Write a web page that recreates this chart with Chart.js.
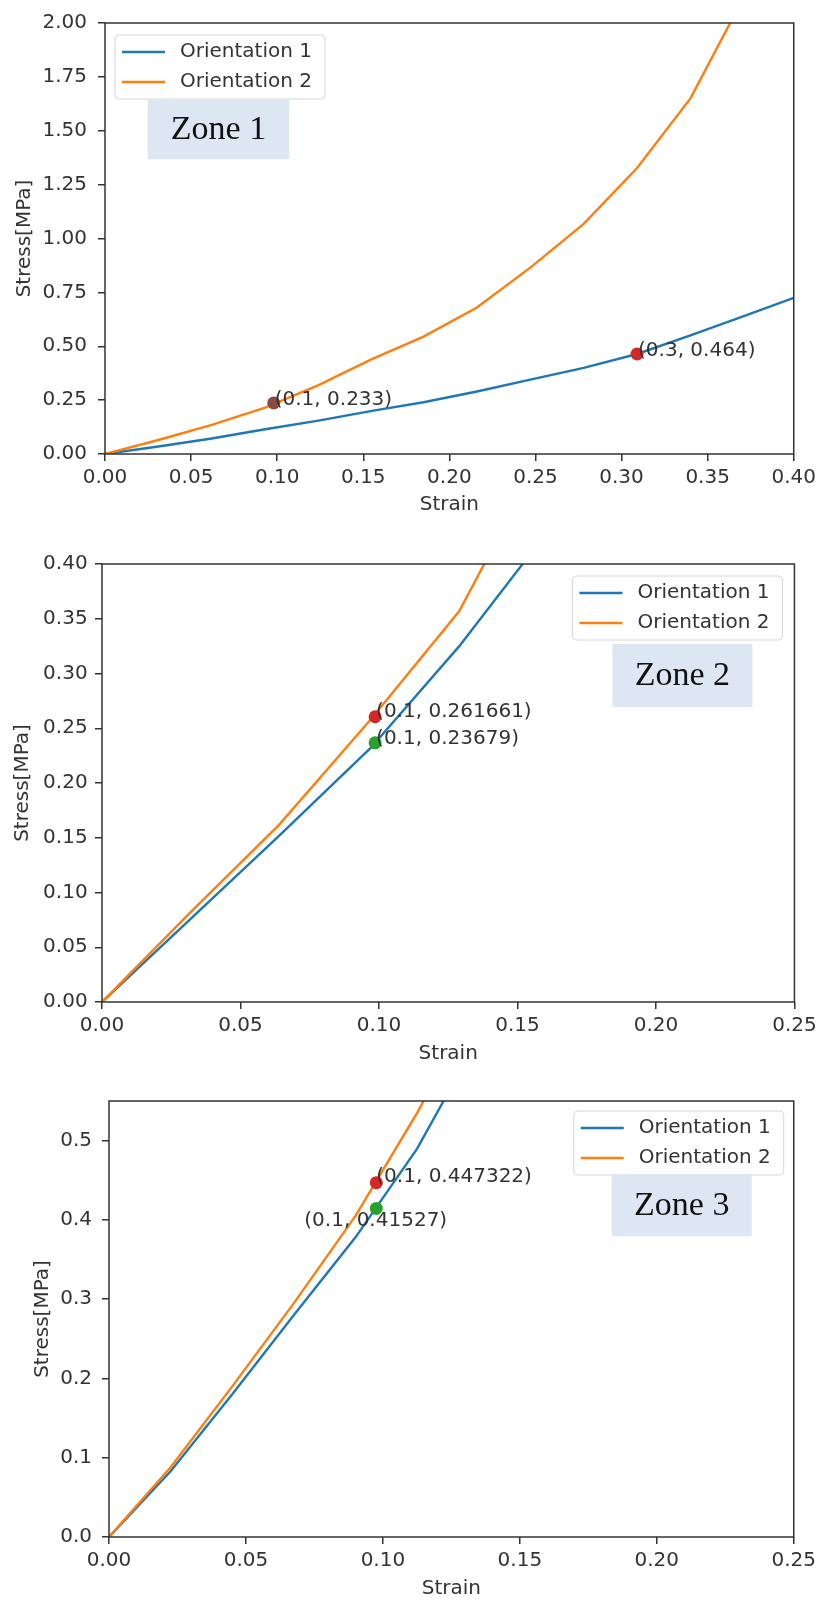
<!DOCTYPE html>
<html>
<head>
<meta charset="utf-8">
<script src="https://cdn.jsdelivr.net/npm/chart.js@4.4.1/dist/chart.umd.min.js"></script>
<style>
  body { margin: 0; background: #fff; }
  canvas { position: absolute; left: 0; }
</style>
</head>
<body>
<canvas id="zone1" width="821" height="530" style="top:0px"></canvas>
<canvas id="zone2" width="821" height="540" style="top:530px"></canvas>
<canvas id="zone3" width="821" height="543" style="top:1070px"></canvas>
<script>
// Zone 1
const strain1 = [0, 0.031, 0.062, 0.093, 0.124, 0.155, 0.185, 0.216, 0.247, 0.278, 0.309, 0.340, 0.371, 0.402];
const stress1Ori1 = [0, 0.035, 0.072, 0.115, 0.155, 0.20, 0.24, 0.29, 0.345, 0.40, 0.464, 0.55, 0.64, 0.73];
const stress1Ori2 = [0, 0.065, 0.135, 0.215, 0.32, 0.44, 0.545, 0.68, 0.865, 1.068, 1.327, 1.65, 2.12];
const markX1 = [0.098, 0.309];
const markY1 = [0.237, 0.464];
const markText1 = ["(0.1, 0.233)", "(0.3, 0.464)"];

// Zone 2
const strain2 = [0, 0.032, 0.064, 0.097, 0.129, 0.161];
const stress2Ori1 = [0, 0.076, 0.152, 0.232, 0.325, 0.43];
const stress2Ori2 = [0, 0.082, 0.162, 0.258, 0.357, 0.51];
const markX2 = [0.0986, 0.0986];
const markY2 = [0.2605, 0.2367];
const markText2 = ["(0.1, 0.261661)", "(0.1, 0.23679)"];

// Zone 3
const strain3 = [0, 0.0225, 0.045, 0.0675, 0.09, 0.1125, 0.135];
const stress3Ori1 = [0, 0.083, 0.18, 0.28, 0.378, 0.49, 0.63];
const stress3Ori2 = [0, 0.088, 0.19, 0.295, 0.405, 0.535, 0.68];
const markX3 = [0.0976, 0.0976];
const markY3 = [0.447, 0.4145];
const markText3 = ["(0.1, 0.447322)", "(0.1, 0.41527)"];

const seriesNames = ["Orientation 1", "Orientation 2"];
const BLUE = "#1f77b4", ORANGE = "#ff7f0e";
const INK = "#333";

Chart.defaults.font.family = "DejaVu Sans";
Chart.defaults.font.size = 20;
Chart.defaults.color = INK;

function pts(xs, ys) {
  return ys.map((y, i) => ({ x: xs[i], y: y }));
}

function box(ctx, x, y, w, h, r) {
  ctx.beginPath();
  ctx.moveTo(x + r, y);
  ctx.lineTo(x + w - r, y);
  ctx.quadraticCurveTo(x + w, y, x + w, y + r);
  ctx.lineTo(x + w, y + h - r);
  ctx.quadraticCurveTo(x + w, y + h, x + w - r, y + h);
  ctx.lineTo(x + r, y + h);
  ctx.quadraticCurveTo(x, y + h, x, y + h - r);
  ctx.lineTo(x, y + r);
  ctx.quadraticCurveTo(x, y, x + r, y);
  ctx.closePath();
}

const decorations = {
  id: "decorations",
  afterDatasetsDraw(chart) {
    const o = chart.options.plugins.decorations;
    const { ctx, chartArea: a, scales } = chart;
    ctx.save();
    // marker labels
    ctx.font = "20px DejaVu Sans";
    ctx.fillStyle = INK;
    ctx.textAlign = "left";
    ctx.textBaseline = "middle";
    o.markText.forEach((t, i) => {
      const px = scales.x.getPixelForValue(o.markX[i]) + o.textOffset[i][0];
      const py = scales.y.getPixelForValue(o.markY[i]) + o.textOffset[i][1];
      ctx.fillText(t, px, py);
    });
    // frame
    ctx.strokeStyle = INK;
    ctx.lineWidth = 1.5;
    ctx.strokeRect(a.left, a.top, a.right - a.left, a.bottom - a.top);
    ctx.restore();
  },
  afterDraw(chart) {
    const o = chart.options.plugins.decorations;
    const { ctx, chartArea: a } = chart;
    ctx.save();
    // legend
    const lx = o.legendRight ? a.right - o.legend[0] - 210 : a.left + o.legend[0];
    const ly = a.top + o.legend[1];
    box(ctx, lx, ly, 210, 64, 4);
    ctx.fillStyle = "rgba(255,255,255,0.85)";
    ctx.fill();
    ctx.strokeStyle = "#d6d6d6";
    ctx.lineWidth = 1;
    ctx.stroke();
    [BLUE, ORANGE].forEach((c, i) => {
      const yy = ly + 17 + i * 30;
      ctx.strokeStyle = c;
      ctx.lineWidth = 2.4;
      ctx.beginPath();
      ctx.moveTo(lx + 7, yy);
      ctx.lineTo(lx + 50, yy);
      ctx.stroke();
      ctx.fillStyle = INK;
      ctx.font = "20px DejaVu Sans";
      ctx.textAlign = "left";
      ctx.textBaseline = "middle";
      ctx.fillText(seriesNames[i], lx + 65, yy);
    });
    // zone label
    const z = o.zone;
    const zx = z.fromRight ? a.right - z.dx : a.left + z.dx;
    const zy = a.top + z.dy;
    ctx.fillStyle = "#dce7f3";
    ctx.fillRect(zx, zy, z.w, z.h);
    ctx.fillStyle = "#111";
    ctx.font = "34px 'Liberation Serif'";
    ctx.textAlign = "center";
    ctx.textBaseline = "middle";
    ctx.fillText(z.text, zx + z.w / 2, zy + z.h / 2 + 1);
    ctx.restore();
  }
};

function makeChart(id, c) {
  const tickGrid = { drawOnChartArea: false, tickLength: 7, color: INK, lineWidth: 1.5 };
  new Chart(document.getElementById(id), {
    type: "line",
    data: {
      datasets: [
        {
          label: "markers",
          data: pts(c.markX, c.markY),
          showLine: false,
          pointRadius: 6.5,
          pointBorderWidth: 0,
          pointBackgroundColor: c.markColors,
          order: 0
        },
        {
          label: seriesNames[1],
          data: pts(c.strain, c.ori2),
          borderColor: ORANGE,
          borderWidth: 2.4,
          pointRadius: 0,
          tension: 0,
          order: 1
        },
        {
          label: seriesNames[0],
          data: pts(c.strain, c.ori1),
          borderColor: BLUE,
          borderWidth: 2.4,
          pointRadius: 0,
          tension: 0,
          order: 2
        }
      ]
    },
    options: {
      responsive: false,
      animation: false,
      devicePixelRatio: 1,
      layout: { padding: c.padding },
      plugins: {
        legend: { display: false },
        tooltip: { enabled: false },
        decorations: c.deco
      },
      scales: {
        x: {
          type: "linear",
          min: 0,
          max: c.xMax,
          ticks: {
            stepSize: 0.05,
            includeBounds: false,
            autoSkip: false,
            maxRotation: 0,
            padding: c.xTickPad,
            callback: (v) => v.toFixed(2)
          },
          grid: tickGrid,
          border: { display: false },
          title: { display: true, text: "Strain", padding: { top: 0, bottom: c.xTitlePad } },
          afterFit: (s) => { s.height = c.xHeight; }
        },
        y: {
          min: 0,
          max: c.yMax,
          ticks: {
            stepSize: c.yStep,
            includeBounds: false,
            autoSkip: false,
            padding: c.yTickPad,
            callback: (v) => v.toFixed(c.yDec)
          },
          grid: tickGrid,
          border: { display: false },
          title: { display: true, text: "Stress[MPa]", padding: { top: c.yTitlePad, bottom: 0 } },
          afterFit: (s) => { s.width = c.yWidth; }
        }
      }
    },
    plugins: [decorations]
  });
}

makeChart("zone1", {
  strain: strain1, ori1: stress1Ori1, ori2: stress1Ori2,
  markX: markX1, markY: markY1, markColors: ["#8c4a46", "#d62728"],
  xMax: 0.40, yMax: 2.0, yStep: 0.25, yDec: 2,
  padding: { left: 0, right: 24, top: 16, bottom: 0 },
  yWidth: 105, xHeight: 76, xTickPad: 5, xTitlePad: 13, yTickPad: 11, yTitlePad: 13,
  deco: {
    markX: markX1, markY: markY1, markText: markText1,
    textOffset: [[1, -3], [1, -3]],
    legend: [10, 12], legendRight: false,
    zone: { text: "Zone 1", fromRight: false, dx: 42.7, dy: 76.7, w: 141.6, h: 59.6 }
  }
});

makeChart("zone2", {
  strain: strain2, ori1: stress2Ori1, ori2: stress2Ori2,
  markX: markX2, markY: markY2, markColors: ["#d62728", "#2ca02c"],
  xMax: 0.25, yMax: 0.40, yStep: 0.05, yDec: 2,
  padding: { left: 0, right: 24, top: 34, bottom: 0 },
  yWidth: 102, xHeight: 68, xTickPad: 4.3, xTitlePad: 4.7, yTickPad: 7.4, yTitlePad: 11,
  deco: {
    markX: markX2, markY: markY2, markText: markText2,
    textOffset: [[1, -5], [1, -4.4]],
    legend: [12, 12], legendRight: true,
    zone: { text: "Zone 2", fromRight: true, dx: 182, dy: 80, w: 140, h: 63 }
  }
});

makeChart("zone3", {
  strain: strain3, ori1: stress3Ori1, ori2: stress3Ori2,
  markX: markX3, markY: markY3, markColors: ["#d62728", "#2ca02c"],
  xMax: 0.25, yMax: 0.55, yStep: 0.1, yDec: 1,
  padding: { left: 0, right: 24, top: 31, bottom: 0 },
  yWidth: 109, xHeight: 76, xTickPad: 5, xTitlePad: 12.7, yTickPad: 10, yTitlePad: 31,
  deco: {
    markX: markX3, markY: markY3, markText: markText3,
    textOffset: [[0, -5.6], [-72, 12]],
    legend: [10, 10], legendRight: true,
    zone: { text: "Zone 3", fromRight: true, dx: 182, dy: 73.3, w: 140, h: 62 }
  }
});
</script>
</body>
</html>
